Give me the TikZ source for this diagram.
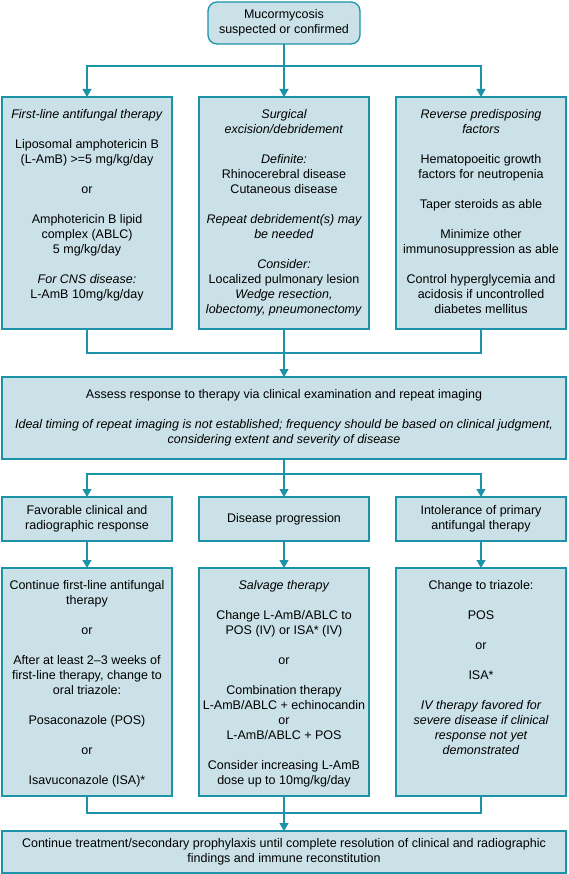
\documentclass[tikz,border=0pt]{standalone}
\usepackage{fontspec}
\setmainfont{Liberation Sans}
\usepackage{xcolor}
\usepackage{tikz}
\usetikzlibrary{arrows.meta,positioning,calc}

\definecolor{boxfill}{HTML}{CAE1E8}
\definecolor{boxline}{HTML}{1C93A8}
\newcommand{\colcell}[2]{\parbox[c][#1][t]{164pt}{\centering\strut #2}}

\begin{document}
\begin{tikzpicture}[x=1pt, y=1pt, node distance=27pt,
    every node/.style={font=\fontsize{12.5}{15}\selectfont, outer sep=0pt},
    box/.style={draw=boxline, line width=1.3pt, fill=boxfill, inner xsep=3pt},
    colbox/.style={box, inner ysep=11pt},
    headbox/.style={box, align=center, minimum width=170pt, minimum height=44pt},
    widebox/.style={box, align=center, minimum width=564pt},
    link/.style={draw=boxline, line width=1.2pt},
    arr/.style={link, -{Triangle[length=8pt, width=9pt]}}]
    \useasboundingbox (0,0) rectangle (568,-874);

    \node (top) [box, align=center, rounded corners=9pt, minimum width=152pt, minimum height=42pt] at (284,-23) {Mucormycosis\\suspected or confirmed};

    \node (surgery) [colbox, below=53pt of top] {\colcell{210pt}{\textit{Surgical\\excision/debridement}\\[15pt]
        \textit{Definite:}\\Rhinocerebral disease\\Cutaneous disease\\[15pt]
        \textit{Repeat debridement(s) may\\be needed}\\[15pt]
        \textit{Consider:}\\Localized pulmonary lesion\\\textit{Wedge resection,\\lobectomy, pneumonectomy}}};
    \node (firstline) [colbox, left=of surgery] {\colcell{210pt}{\textit{First-line antifungal therapy}\\[15pt]
        Liposomal amphotericin B\\(L-AmB) >=5 mg/kg/day\\[15pt]
        or\\[15pt]
        Amphotericin B lipid\\complex (ABLC)\\5 mg/kg/day\\[15pt]
        \textit{For CNS disease:}\\L-AmB 10mg/kg/day}};
    \node (predispose) [colbox, right=of surgery] {\colcell{210pt}{\textit{Reverse predisposing\\factors}\\[15pt]
        Hematopoeitic growth\\factors for neutropenia\\[15pt]
        Taper steroids as able\\[15pt]
        Minimize other\\immunosuppression as able\\[15pt]
        Control hyperglycemia and\\acidosis if uncontrolled\\diabetes mellitus}};

    \node (assess) [widebox, minimum height=82pt, below=48pt of surgery] {Assess response to therapy via clinical examination and repeat imaging\\[15pt]
        \textit{Ideal timing of repeat imaging is not established; frequency should be based on clinical judgment,}\\
        \textit{considering extent and severity of disease}};

    \node (progress) [headbox, below=38pt of assess] {Disease progression};
    \node (favorable) [headbox, left=of progress] {Favorable clinical and\\radiographic response};
    \node (intolerance) [headbox, right=of progress] {Intolerance of primary\\antifungal therapy};

    \node (salvage) [colbox, below=of progress] {\colcell{206pt}{\textit{Salvage therapy}\\[15pt]
        Change L-AmB/ABLC to\\POS (IV) or ISA* (IV)\\[15pt]
        or\\[15pt]
        Combination therapy\\L-AmB/ABLC + echinocandin\\or\\L-AmB/ABLC + POS\\[15pt]
        Consider increasing L-AmB\\dose up to 10mg/kg/day}};
    \node (continue) [colbox, left=of salvage] {\colcell{206pt}{Continue first-line antifungal\\therapy\\[15pt]
        or\\[15pt]
        After at least 2–3 weeks of\\first-line therapy, change to\\oral triazole:\\[15pt]
        Posaconazole (POS)\\[15pt]
        or\\[15pt]
        Isavuconazole (ISA)*}};
    \node (triazole) [colbox, right=of salvage] {\colcell{206pt}{Change to triazole:\\[15pt]
        POS\\[15pt]
        or\\[15pt]
        ISA*\\[15pt]
        \textit{IV therapy favored for\\severe disease if clinical\\response not yet\\demonstrated}}};

    \node (resolution) [widebox, minimum height=42pt, below=35pt of salvage] {Continue treatment/secondary prophylaxis until complete resolution of clinical and radiographic\\
        findings and immune reconstitution};

    \coordinate (fork1) at ($(top.south)+(0,-22pt)$);
    \draw[arr] (top) -- (surgery);
    \draw[arr] (fork1) -| (firstline.north);
    \draw[arr] (fork1) -| (predispose.north);

    \coordinate (join1) at ($(surgery.south)+(0,-24pt)$);
    \draw[link] (firstline.south) |- (join1) -| (predispose.south);
    \draw[arr] (surgery) -- (assess);

    \coordinate (fork2) at ($(assess.south)+(0,-15pt)$);
    \draw[arr] (assess) -- (progress);
    \draw[arr] (fork2) -| (favorable.north);
    \draw[arr] (fork2) -| (intolerance.north);

    \draw[arr] (favorable) -- (continue);
    \draw[arr] (progress) -- (salvage);
    \draw[arr] (intolerance) -- (triazole);

    \coordinate (join2) at ($(salvage.south)+(0,-17pt)$);
    \draw[link] (continue.south) |- (join2) -| (triazole.south);
    \draw[arr] (salvage) -- (resolution);
\end{tikzpicture}
\end{document}
